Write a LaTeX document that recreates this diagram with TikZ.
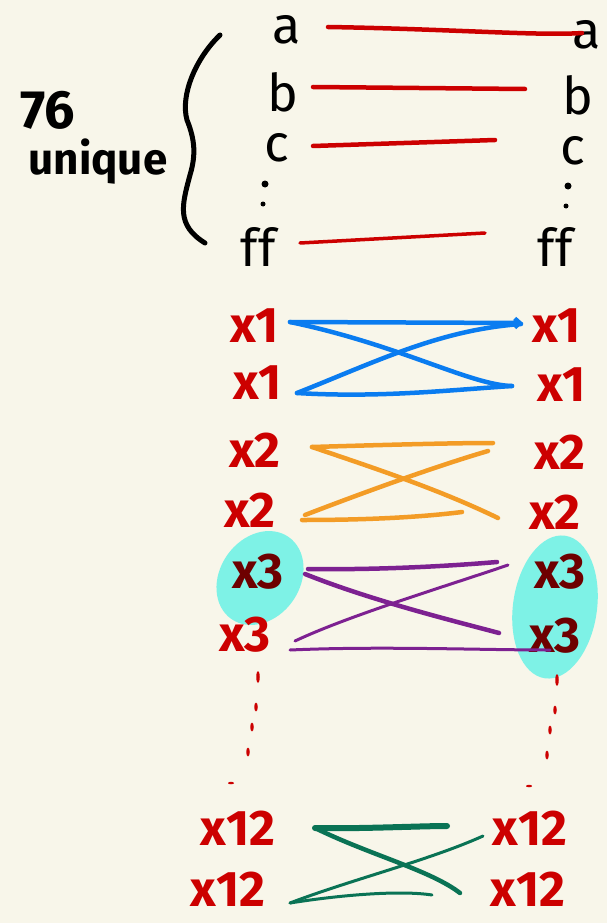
\documentclass[tikz,border=0pt]{standalone}
\usepackage{fontspec}
\setmainfont{Fira Sans}
\usetikzlibrary{arrows.meta,shapes.geometric}
\definecolor{bg}{RGB}{248,246,234}
\definecolor{hred}{RGB}{204,0,0}
\definecolor{hblue}{RGB}{10,124,240}
\definecolor{horange}{RGB}{243,156,38}
\definecolor{hpurple}{RGB}{125,33,145}
\definecolor{hgreen}{RGB}{10,115,85}
\definecolor{hcyan}{RGB}{126,242,230}
\definecolor{hdark}{RGB}{110,0,0}
\tikzset{
  lbl/.style={inner sep=0pt, anchor=center},
  blk/.style={lbl, text=black, font=\fontsize{52}{52}\selectfont},
  side/.style={lbl, text=black, font=\fontsize{44}{44}\selectfont\bfseries},
  xr/.style={lbl, text=hred, font=\fontsize{50}{50}\selectfont\bfseries},
  xd/.style={xr, text=hdark},
  link/.style={line width=4.5pt, line cap=round},
  thin link/.style={line width=3pt, line cap=round},
  dotk/.style={fill=black, draw=none, circle, inner sep=0pt, minimum size=7pt},
  dotr/.style={fill=hred, draw=none, ellipse, inner sep=0pt, minimum width=3.5pt, minimum height=9pt},
  blob/.style={fill=hcyan, draw=none},
  brace line/.style={line width=5pt, line cap=round, black}
}
\begin{document}
\begin{tikzpicture}[x=1pt,y=-1pt]
\useasboundingbox (0,0) rectangle (607,923);
\fill[bg] (0,0) rectangle (607,923);

% cyan blobs
\fill[blob, rotate around={-35:(260,578)}] (260,578) ellipse [x radius=40, y radius=50];
\fill[blob, rotate around={-8:(555,607)}] (555,607) ellipse [x radius=42, y radius=72];

% side label and brace
\node[side, font=\fontsize{54}{54}\selectfont\bfseries] (n76) at (48,110) {76};
\node[side] (uniq) at (98,162) {unique};
\draw[brace line] (220,35) .. controls (196,58) and (180,95) .. (187,120)
  .. controls (195,140) and (196,155) .. (190,175)
  .. controls (182,205) and (176,225) .. (205,243);

% top labels
\node[blk] (la) at (287,30) {a};
\node[blk] (lb) at (283,92) {b};
\node[blk] (lc) at (277,148) {c};
\node[blk] (lff) at (258,247) {ff};
\node[blk] (ra) at (587,35) {a};
\node[blk] (rb) at (578,95) {b};
\node[blk] (rc) at (573,151) {c};
\node[blk] (rff) at (555,247) {ff};
\node[dotk] (ld1) at (265,184) {};
\node[dotk, minimum size=5pt] (ld2) at (263,204) {};
\node[dotk] (rd1) at (568,186) {};
\node[dotk, minimum size=5pt] (rd2) at (566,206) {};

% x labels
\node[xr] (lx1a) at (255,326) {x1};
\node[xr] (lx1b) at (258,383) {x1};
\node[xr] (lx2a) at (255,450) {x2};
\node[xr] (lx2b) at (250,510) {x2};
\node[xd] (lx3a) at (258,572) {x3};
\node[xr] (lx3b) at (245,635) {x3};
\node[xr] (lx12a) at (238,828) {x12};
\node[xr] (lx12b) at (228,889) {x12};
\node[xr] (rx1a) at (557,326) {x1};
\node[xr] (rx1b) at (562,385) {x1};
\node[xr] (rx2a) at (560,452) {x2};
\node[xr] (rx2b) at (555,512) {x2};
\node[xd] (rx3a) at (560,572) {x3};
\node[xd] (rx3b) at (555,636) {x3};
\node[xr] (rx12a) at (530,828) {x12};
\node[xr] (rx12b) at (528,889) {x12};

% red vertical dots
\node[dotr, minimum height=12pt] (lv1) at (258,677) {};
\node[dotr] (lv2) at (256,707) {};
\node[dotr] (lv3) at (252,727) {};
\node[dotr] (lv4) at (248,752) {};
\node[dotr, minimum width=6pt, minimum height=2.5pt] (lv5) at (231,783) {};
\node[dotr, minimum height=12pt] (rv1) at (557,680) {};
\node[dotr] (rv2) at (555,710) {};
\node[dotr] (rv3) at (550,730) {};
\node[dotr] (rv4) at (547,755) {};
\node[dotr, minimum width=6pt, minimum height=2.5pt] (rv5) at (529,786) {};

% red straight links
\draw[link, hred] ([xshift=41pt,yshift=3pt]la.center) .. controls (450,29) and (540,36) .. ([xshift=-5pt,yshift=2pt]ra.center);
\draw[link, hred] ([xshift=30pt,yshift=5pt]lb.center) -- ([xshift=-53pt,yshift=6pt]rb.center);
\draw[link, hred] ([xshift=36pt,yshift=2pt]lc.center) -- ([xshift=-78pt,yshift=11pt]rc.center);
\draw[link, hred, line width=3.5pt] ([xshift=42pt,yshift=4pt]lff.center) -- ([xshift=-70pt,yshift=14pt]rff.center);

% blue x1
\draw[link, hblue, -{Straight Barb[length=5pt,width=9pt]}] ([xshift=35pt,yshift=4pt]lx1a.center) -- ([xshift=-34pt,yshift=3pt]rx1a.center);
\draw[link, hblue] ([xshift=35pt,yshift=4pt]lx1a.center) .. controls (400,345) and (470,385) .. ([xshift=-50pt,yshift=-1pt]rx1b.center);
\draw[link, hblue] ([xshift=39pt,yshift=-10pt]lx1b.center) .. controls (380,398) and (450,390) .. ([xshift=-50pt,yshift=-1pt]rx1b.center);
\draw[link, hblue] ([xshift=39pt,yshift=-10pt]lx1b.center) .. controls (380,360) and (440,330) .. ([xshift=-36pt,yshift=2pt]rx1a.center);

% orange x2
\draw[link, horange] ([xshift=57pt,yshift=3pt]lx2a.center) .. controls (380,445) and (450,443) .. ([xshift=-67pt,yshift=9pt]rx2a.center);
\draw[link, horange] ([xshift=57pt,yshift=3pt]lx2a.center) .. controls (380,470) and (440,490) .. ([xshift=-57pt,yshift=-6pt]rx2b.center);
\draw[link, horange] ([xshift=55pt,yshift=-5pt]lx2b.center) .. controls (370,490) and (440,465) .. ([xshift=-72pt,yshift=1pt]rx2a.center);
\draw[link, horange] ([xshift=52pt,yshift=-10pt]lx2b.center) .. controls (380,520) and (430,516) .. ([xshift=-93pt,yshift=0pt]rx2b.center);

% purple x3
\draw[link, hpurple] ([xshift=50pt,yshift=3pt]lx3a.center) .. controls (380,570) and (450,566) .. ([xshift=-63pt,yshift=10pt]rx3a.center);
\draw[link, hpurple] ([xshift=47pt,yshift=-2pt]lx3a.center) .. controls (370,600) and (450,620) .. ([xshift=-56pt,yshift=3pt]rx3b.center);
\draw[thin link, hpurple] ([xshift=50pt,yshift=-6pt]lx3b.center) .. controls (350,615) and (450,585) .. ([xshift=-52pt,yshift=7pt]rx3a.center);
\draw[thin link, hpurple] ([xshift=45pt,yshift=-15pt]lx3b.center) .. controls (380,646) and (480,650) .. ([xshift=-5pt,yshift=-14pt]rx3b.center);

% green x12
\draw[link, hgreen, line width=6pt] ([xshift=77pt,yshift=0pt]lx12a.center) .. controls (360,829) and (420,826) .. ([xshift=-83pt,yshift=2pt]rx12a.center);
\draw[link, hgreen] ([xshift=77pt,yshift=0pt]lx12a.center) .. controls (370,855) and (430,870) .. ([xshift=-68pt,yshift=-4pt]rx12b.center);
\draw[thin link, hgreen] ([xshift=62pt,yshift=-14pt]lx12b.center) .. controls (350,880) and (430,860) .. ([xshift=-47pt,yshift=-8pt]rx12a.center);
\draw[thin link, hgreen] ([xshift=62pt,yshift=-14pt]lx12b.center) .. controls (340,895) and (400,890) .. ([xshift=-96pt,yshift=-6pt]rx12b.center);
\end{tikzpicture}
\end{document}
